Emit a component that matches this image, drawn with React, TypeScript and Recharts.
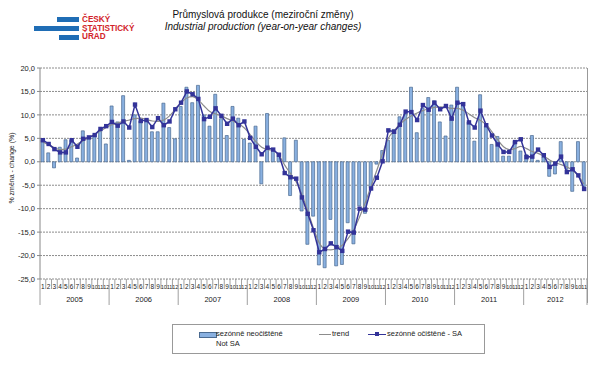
import React from 'react';
import { ComposedChart, Bar, Line, XAxis, YAxis, CartesianGrid } from 'recharts';

// years shown on the category axis and how many months each one has
const YEARS = [2005, 2006, 2007, 2008, 2009, 2010, 2011, 2012];
const MONTHS_IN_YEAR = [12, 12, 12, 12, 12, 12, 12, 11];

// sezónně neočištěné (Not SA), y/y change in %
const NOT_SA = [
  4.7, 1.9, -1.3, 3.1, 4.7, 4.6, 0.8, 6.6, 5.2, 5.4, 6.5, 3.8,
  11.9, 8.5, 14.1, 0.3, 10.0, 8.7, 8.6, 6.4, 6.4, 12.5, 7.3, 4.9,
  11.8, 15.9, 12.6, 16.3, 10.0, 7.6, 14.4, 9.2, 5.6, 11.8, 9.3, 4.8,
  4.0, 7.6, -4.7, 10.3, 2.5, 1.8, 5.1, -7.2, 4.6, -10.5, -17.6, -11.6,
  -22.0, -22.6, -12.3, -22.2, -21.9, -13.0, -17.5, -9.4, -11.0, -5.5, -0.5, 2.4,
  4.6, 6.9, 9.6, 10.2, 15.9, 6.2, 11.5, 13.7, 13.0, 8.5, 5.5, 12.1,
  15.9, 12.5, 8.5, 4.4, 14.3, 7.6, 3.7, 5.4, 1.2, 1.2, 4.4, 2.3,
  1.5, 5.6, 0.3, 1.0, -3.1, -2.6, 4.3, -1.6, -6.3, 4.3, -5.3,
];

// trend
const TREND = [
  4.2, 3.6, 3.0, 2.6, 2.7, 3.2, 3.8, 4.5, 5.2, 5.9, 6.6, 7.3,
  7.9, 8.3, 8.6, 8.9, 9.2, 9.3, 9.0, 8.7, 8.6, 8.9, 9.8, 11.2,
  12.6, 13.6, 13.9, 13.2, 11.9, 10.7, 10.2, 9.8, 9.2, 8.7, 8.1, 7.2,
  5.8, 4.3, 3.1, 2.6, 2.4, 1.4, -0.7, -2.5, -4.3, -7.0, -10.5, -14.2,
  -17.3, -18.6, -18.8, -18.5, -17.8, -16.4, -14.5, -11.8, -8.7, -5.2, -1.8, 1.8,
  5.0, 6.6, 8.0, 9.0, 9.8, 10.4, 10.9, 11.3, 11.6, 11.7, 11.6, 11.4,
  11.4, 11.0, 10.2, 9.4, 8.8, 7.9, 6.4, 4.7, 3.2, 2.6, 2.8, 3.3,
  2.8, 2.2, 1.8, 1.2, 0.4, -0.2, -0.6, -1.1, -1.8, -3.0, -4.8,
];

// sezónně očištěné - SA
const SA = [
  4.6, 3.8, 2.7, 2.0, 2.0, 4.6, 3.2, 4.9, 5.2, 5.7, 7.0, 7.6,
  8.5, 7.7, 8.6, 7.3, 12.2, 8.7, 8.9, 7.4, 9.3, 7.8, 8.6, 11.2,
  12.6, 15.0, 14.4, 13.4, 9.1, 9.6, 11.4, 9.8, 8.1, 9.2, 7.8, 8.6,
  5.1, 3.2, 1.6, 3.0, 2.6, 1.5, -2.4, -3.3, -3.6, -7.6, -11.1, -14.6,
  -19.3, -18.6, -17.4, -18.2, -19.0, -14.9, -15.1, -10.0, -10.2, -5.7, -3.4, 0.1,
  6.7, 6.4, 7.9, 10.7, 10.6, 8.9, 12.1, 11.1, 12.6, 11.2, 11.9, 9.2,
  12.6, 12.3, 8.4, 7.3, 10.9, 7.8, 5.6, 3.7, 2.1, 2.1, 4.2, 4.8,
  1.0, 1.1, 2.6, 1.4, -1.1, -0.4, 1.1, -2.2, -1.6, -2.9, -5.8,
];

const Y_TICKS = [20, 15, 10, 5, 0, -5, -10, -15, -20, -25];

const monthNo: number[] = [];
const yearOf: number[] = [];
YEARS.forEach((y, k) => {
  for (let m = 1; m <= MONTHS_IN_YEAR[k]; m++) {
    monthNo.push(m);
    yearOf.push(y);
  }
});

const data = monthNo.map((m, i) => ({
  label: `${yearOf[i]}-${m}`,
  notSA: NOT_SA[i],
  trend: TREND[i],
  sa: SA[i],
}));

const PLOT_W = 547;
const BW = PLOT_W / data.length;
const FONT = '"Liberation Sans", Arial, sans-serif';

const MonthTick = (props: any) => {
  const { x, y, payload } = props;
  const i = payload.index;
  const m = monthNo[i];
  const yr = yearOf[i];
  const left = x - BW / 2;
  const isLast = i === data.length - 1;
  const n = MONTHS_IN_YEAR[YEARS.indexOf(yr)];
  let yearX: number | null = null;
  if (n === 12 && m === 7) yearX = left;
  if (n === 11 && m === 6) yearX = x;
  return (
    <g>
      <line x1={left} x2={left} y1={y} y2={y + (m === 1 ? 26 : 10)} stroke="#888" strokeWidth={0.8} />
      {isLast && <line x1={x + BW / 2} x2={x + BW / 2} y1={y} y2={y + 26} stroke="#888" strokeWidth={0.8} />}
      <text x={x} y={y + 10} textAnchor="middle" fontSize={m >= 10 ? 5.5 : 6.5} fill="#222" fontFamily={FONT}>
        {m}
      </text>
      {yearX !== null && (
        <text x={yearX} y={y + 23} textAnchor="middle" fontSize={7.5} fill="#222" fontFamily={FONT}>
          {yr}
        </text>
      )}
    </g>
  );
};

const SquareDot = (props: any) => {
  const { cx, cy, index } = props;
  if (cx == null || cy == null) return <g key={index} />;
  return <rect key={index} x={cx - 2.2} y={cy - 2.2} width={4.4} height={4.4} fill="#333399" />;
};

const App: React.FC = () => {
  return (
    <div style={{ position: 'absolute', left: 0, top: 0, width: 600, height: 373, background: '#fff', fontFamily: FONT }}>
      {/* logo */}
      <div style={{ position: 'absolute', left: 57, top: 17, width: 22, height: 5, background: '#1f6db5' }} />
      <div style={{ position: 'absolute', left: 34, top: 26, width: 45, height: 5, background: '#1f6db5' }} />
      <div style={{ position: 'absolute', left: 59, top: 35, width: 20, height: 5, background: '#1f6db5' }} />
      <div style={{ position: 'absolute', left: 82, top: 16, color: '#d2232a', fontSize: 8.2, fontWeight: 'bold', lineHeight: '8.6px' }}>
        <div>ČESKÝ</div>
        <div>STATISTICKÝ</div>
        <div>ÚŘAD</div>
      </div>

      {/* title */}
      <div style={{ position: 'absolute', left: 0, width: 526, top: 9, textAlign: 'center', fontSize: 10, color: '#111', lineHeight: '12px' }}>
        <div>Průmyslová produkce (meziroční změny)</div>
        <div style={{ fontStyle: 'italic' }}>Industrial production (year-on-year changes)</div>
      </div>

      {/* y axis title */}
      <div style={{ position: 'absolute', left: 11, top: 168, width: 0, height: 0 }}>
        <div style={{ position: 'absolute', transform: 'translate(-50%, -50%) rotate(-90deg)', whiteSpace: 'nowrap', fontSize: 7, color: '#222' }}>
          % změna - change (%)
        </div>
      </div>

      <div style={{ position: 'absolute', left: 0, top: 0 }}>
        <ComposedChart width={600} height={373} data={data} margin={{ top: 68, right: 13, bottom: 64, left: 4 }} barCategoryGap={0}>
          <CartesianGrid vertical={false} stroke="#8c8c8c" strokeDasharray="2 1" />
          <XAxis
            dataKey="label"
            interval={0}
            tickLine={false}
            axisLine={false}
            tickSize={0}
            tickMargin={0}
            height={30}
            tick={(p: any) => <MonthTick {...p} />}
          />
          <YAxis
            domain={[-25, 20]}
            ticks={Y_TICKS}
            width={36}
            tickSize={3}
            tickMargin={2}
            axisLine={{ stroke: '#888' }}
            tickLine={{ stroke: '#888' }}
            tick={{ fontSize: 7.5, fill: '#222', fontFamily: FONT }}
            tickFormatter={(v: number) => v.toFixed(1).replace('.', ',')}
          />
          <Bar dataKey="notSA" fill="#89B0E0" stroke="#4a6a90" strokeWidth={0.7} barSize={3} isAnimationActive={false} />
          <Line type="monotone" dataKey="trend" stroke="#8c8c8c" strokeWidth={1.2} dot={false} isAnimationActive={false} />
          <Line type="linear" dataKey="sa" stroke="#333399" strokeWidth={1.5} dot={(p: any) => <SquareDot {...p} />} isAnimationActive={false} />
        </ComposedChart>
      </div>

      {/* plot area right border */}
      <div style={{ position: 'absolute', left: 587, top: 68, width: 1, height: 235, background: '#999' }} />

      {/* legend */}
      <div style={{ position: 'absolute', left: 172, top: 324, width: 311, height: 28, border: '1px solid #999', fontSize: 7.5, color: '#222' }}>
        <div style={{ position: 'absolute', left: 26, top: 7, width: 16, height: 4, background: '#89B0E0', border: '0.7px solid #4a6a90' }} />
        <div style={{ position: 'absolute', left: 43, top: 4, lineHeight: '10px' }}>
          <div>sezónně neočištěné</div>
          <div>Not SA</div>
        </div>
        <div style={{ position: 'absolute', left: 146, top: 9, width: 12, height: 1, background: '#8c8c8c' }} />
        <div style={{ position: 'absolute', left: 159, top: 4, lineHeight: '10px' }}>trend</div>
        <div style={{ position: 'absolute', left: 195, top: 8.5, width: 18, height: 1.5, background: '#333399' }} />
        <div style={{ position: 'absolute', left: 202, top: 7, width: 4, height: 4, background: '#333399' }} />
        <div style={{ position: 'absolute', left: 214, top: 4, lineHeight: '10px' }}>sezónně očištěné - SA</div>
      </div>
    </div>
  );
};

export default App;
